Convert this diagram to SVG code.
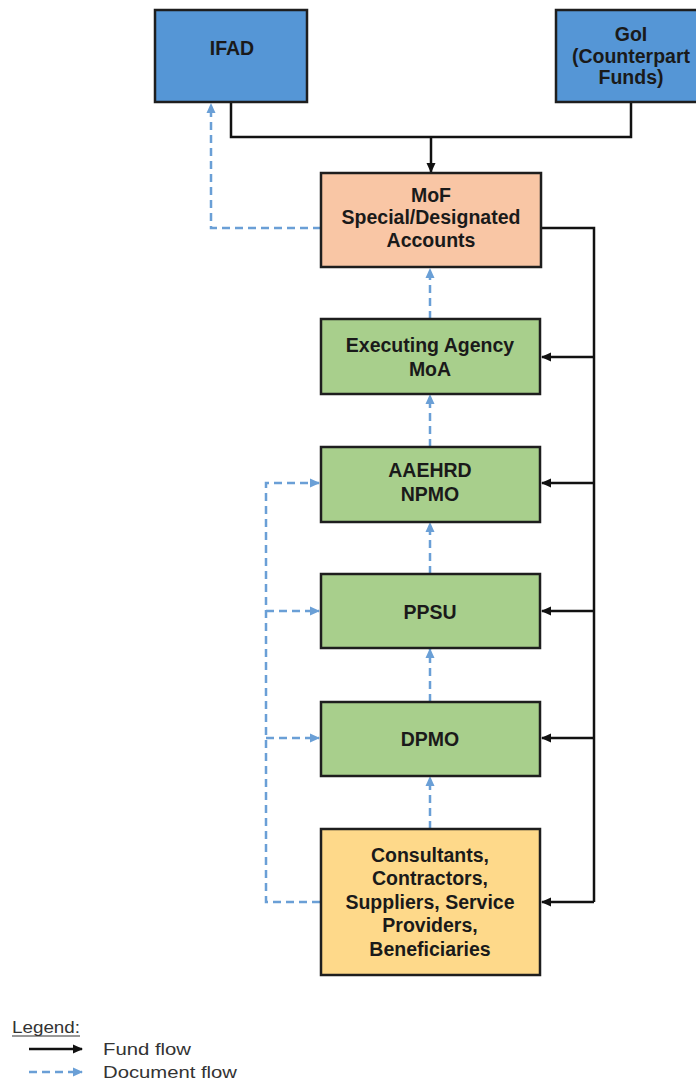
<svg xmlns="http://www.w3.org/2000/svg" width="696" height="1083" viewBox="0 0 696 1083">
<style>
.box{stroke:#1e1e1e;stroke-width:2.5}
.blue{fill:#5596d6}
.peach{fill:#f9c6a5}
.green{fill:#a8cf8c}
.yellow{fill:#fed98a}
.t{font-family:"Liberation Sans",Arial,sans-serif;font-weight:bold;font-size:19.5px;fill:#1a1a1a;text-anchor:middle}
.fund{fill:none;stroke:#111;stroke-width:2.5}
.doc{fill:none;stroke:#6a9fd6;stroke-width:2.5;stroke-dasharray:8 5}
.leg{font-family:"Liberation Sans",Arial,sans-serif;font-size:16px;fill:#333}
</style>
<defs>
<marker id="fa" markerUnits="userSpaceOnUse" markerWidth="10" markerHeight="10" refX="9" refY="5" orient="auto">
<path d="M0,0.5 L10,5 L0,9.5 z" fill="#111"/>
</marker>
<marker id="da" markerUnits="userSpaceOnUse" markerWidth="10" markerHeight="10" refX="9" refY="5" orient="auto">
<path d="M0,0.5 L10,5 L0,9.5 z" fill="#6a9fd6"/>
</marker>
</defs>
<rect width="696" height="1083" fill="#fff"/>
<g id="connectors">
<path class="fund" d="M231,102 V137 H631 V102"/>
<path class="fund" d="M431,137 V172" marker-end="url(#fa)"/>
<path class="fund" d="M541,228 H594 V902"/>
<path class="fund" d="M594,357 H542" marker-end="url(#fa)"/>
<path class="fund" d="M594,483 H542" marker-end="url(#fa)"/>
<path class="fund" d="M594,611 H542" marker-end="url(#fa)"/>
<path class="fund" d="M594,738 H542" marker-end="url(#fa)"/>
<path class="fund" d="M594,902 H542" marker-end="url(#fa)"/>
<path class="doc" d="M321,228 H211 V104" marker-end="url(#da)"/>
<path class="doc" d="M430,319 V269" marker-end="url(#da)"/>
<path class="doc" d="M430,447 V395" marker-end="url(#da)"/>
<path class="doc" d="M430,574 V523" marker-end="url(#da)"/>
<path class="doc" d="M430,702 V649" marker-end="url(#da)"/>
<path class="doc" d="M430,829 V777" marker-end="url(#da)"/>
<path class="doc" d="M320,902 H266 V483 H319" marker-end="url(#da)"/>
<path class="doc" d="M266,611 H319" marker-end="url(#da)"/>
<path class="doc" d="M266,738 H319" marker-end="url(#da)"/>
</g>
<g id="ifad">
<rect class="box blue" x="155" y="10" width="152" height="92"/>
<text class="t" x="232" y="55">IFAD</text>
</g>
<g id="goi">
<rect class="box blue" x="556" y="10" width="146" height="92"/>
<text class="t" x="631" y="41">GoI</text>
<text class="t" x="631" y="63">(Counterpart</text>
<text class="t" x="631" y="84">Funds)</text>
</g>
<g id="mof">
<rect class="box peach" x="321" y="173" width="220" height="94"/>
<text class="t" x="431" y="202">MoF</text>
<text class="t" x="431" y="224">Special/Designated</text>
<text class="t" x="431" y="247">Accounts</text>
</g>
<g id="executing">
<rect class="box green" x="321" y="319" width="219" height="75"/>
<text class="t" x="430" y="352">Executing Agency</text>
<text class="t" x="430" y="376">MoA</text>
</g>
<g id="aaehrd">
<rect class="box green" x="321" y="447" width="219" height="75"/>
<text class="t" x="430" y="477">AAEHRD</text>
<text class="t" x="430" y="501">NPMO</text>
</g>
<g id="ppsu">
<rect class="box green" x="321" y="574" width="219" height="74"/>
<text class="t" x="430" y="619">PPSU</text>
</g>
<g id="dpmo">
<rect class="box green" x="321" y="702" width="219" height="74"/>
<text class="t" x="430" y="746">DPMO</text>
</g>
<g id="consultants">
<rect class="box yellow" x="321" y="829" width="219" height="146"/>
<text class="t" x="430" y="862">Consultants,</text>
<text class="t" x="430" y="885">Contractors,</text>
<text class="t" x="430" y="909">Suppliers, Service</text>
<text class="t" x="430" y="932">Providers,</text>
<text class="t" x="430" y="956">Beneficiaries</text>
</g>
<g id="legend">
<text class="leg" x="12" y="1033" textLength="68" lengthAdjust="spacingAndGlyphs">Legend:</text>
<line x1="12" y1="1036" x2="80" y2="1036" stroke="#333" stroke-width="1.2"/>
<path class="fund" d="M29,1049 H82" marker-end="url(#fa)"/>
<text class="leg" x="103" y="1055" textLength="88" lengthAdjust="spacingAndGlyphs">Fund flow</text>
<path class="doc" d="M29,1072 H82" marker-end="url(#da)"/>
<text class="leg" x="103" y="1078" textLength="134" lengthAdjust="spacingAndGlyphs">Document flow</text>
</g>
</svg>
